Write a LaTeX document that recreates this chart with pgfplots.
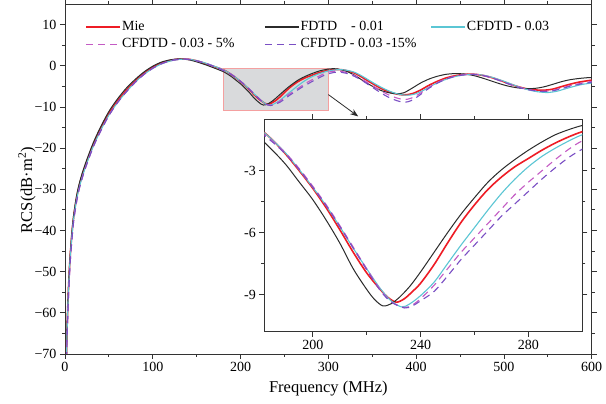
\documentclass[border=0pt]{standalone}
\usepackage{fontspec}
\setmainfont{Liberation Serif}
\usepackage{pgfplots}
\usepackage{pgfplotstable}
\pgfplotsset{compat=1.18}
\usetikzlibrary{calc,arrows.meta}

\definecolor{miec}{HTML}{EE1C25}
\definecolor{fdtdc}{HTML}{2B2B2B}
\definecolor{cfdtdc}{HTML}{5BC6D4}
\definecolor{cfac}{HTML}{C45BC4}
\definecolor{cfbc}{HTML}{7A4FC4}
\definecolor{axisgray}{HTML}{333333}
\definecolor{boxgray}{HTML}{D9DADC}
\definecolor{boxred}{HTML}{F4A0A0}

\pgfplotstableread{
x y
1.2 -80
2 -67
3 -59.5
4 -54
5 -49.5
6 -46
8 -40.5
10 -36.5
13 -32.3
16 -29.3
20 -26.3
25 -23.2
32 -19.3
40 -15.6
50 -11.6
60 -8.5
70 -5.9
80 -3.7
90 -1.85
100 -0.4
110 0.65
120 1.3
128 1.58
135 1.65
142 1.55
150 1.2
160 0.55
170 -0.2
180 -0.95
185 -1.5
190 -2.2
195 -3.0
200 -3.85
205 -4.8
210 -5.85
215 -6.95
220 -7.95
225 -8.75
228 -9.15
231 -9.37
234 -9.2
237 -8.85
240 -8.45
245 -7.55
250 -6.5
255 -5.5
260 -4.65
265 -3.9
270 -3.3
275 -2.8
280 -2.4
285 -2.0
290 -1.65
295 -1.35
300 -1.1
305 -0.95
310 -0.9
315 -0.95
320 -1.15
330 -1.8
340 -3.0
350 -4.3
360 -5.5
370 -6.4
380 -6.95
388 -7.05
396 -6.75
405 -5.9
415 -4.7
425 -3.7
435 -2.9
445 -2.4
455 -2.1
465 -2.05
475 -2.3
485 -2.8
495 -3.5
505 -4.3
515 -5.0
525 -5.55
535 -5.85
545 -5.95
555 -5.7
565 -5.1
575 -4.5
585 -4.0
595 -3.65
600 -3.5
}\mietable

\pgfplotstableread{
x y
1.2 -80
2 -66.5
3 -59
4 -53.5
5 -49
6 -45.5
8 -40
10 -36
13 -31.8
16 -28.8
20 -25.8
25 -22.7
32 -18.8
40 -15.1
50 -11.1
60 -8.0
70 -5.4
80 -3.3
90 -1.5
100 -0.1
110 0.9
120 1.45
128 1.65
135 1.6
142 1.4
150 0.95
160 0.25
170 -0.55
180 -1.4
185 -2.0
190 -2.7
195 -3.55
200 -4.4
205 -5.4
210 -6.5
215 -7.75
220 -8.75
223 -9.25
226 -9.55
229 -9.45
232 -9.15
236 -8.6
240 -7.9
245 -6.95
250 -6.0
255 -5.1
260 -4.3
265 -3.55
270 -2.95
275 -2.45
280 -2.0
285 -1.6
290 -1.25
295 -1.0
300 -0.8
305 -0.7
310 -0.75
320 -1.3
330 -2.3
340 -3.7
350 -4.95
360 -6.0
370 -6.6
378 -6.8
386 -6.55
395 -5.5
405 -4.2
415 -3.2
425 -2.5
435 -2.05
445 -1.9
455 -2.0
465 -2.35
475 -2.95
485 -3.65
495 -4.35
505 -4.95
515 -5.35
525 -5.55
535 -5.5
545 -5.15
555 -4.55
565 -3.9
575 -3.4
585 -3.1
595 -2.9
600 -2.85
}\fdtdtable

\pgfplotstableread{
x y
1.2 -80
2 -67.5
3 -60
4 -54.5
5 -50
6 -46.5
8 -41
10 -37
13 -32.8
16 -29.8
20 -26.8
25 -23.6
32 -19.7
40 -16
50 -12
60 -8.9
70 -6.3
80 -4.0
90 -2.1
100 -0.65
110 0.45
120 1.15
128 1.5
136 1.62
143 1.52
150 1.25
160 0.65
170 -0.1
180 -0.95
185 -1.5
190 -2.15
195 -2.95
200 -3.8
205 -4.7
210 -5.7
215 -6.75
220 -7.75
225 -8.7
229 -9.3
233 -9.6
236 -9.45
240 -9.05
245 -8.4
250 -7.5
255 -6.6
260 -5.75
265 -4.9
270 -4.1
275 -3.4
280 -2.8
285 -2.3
290 -1.9
295 -1.55
300 -1.25
306 -1.05
312 -0.95
320 -1.05
330 -1.6
340 -2.7
350 -4.0
360 -5.2
370 -6.2
380 -6.9
390 -7.15
398 -6.9
408 -6.0
418 -4.8
428 -3.8
438 -3.0
448 -2.45
458 -2.15
468 -2.1
478 -2.35
488 -2.9
498 -3.6
508 -4.4
518 -5.2
528 -5.85
538 -6.3
550 -6.5
560 -6.2
570 -5.6
580 -5.0
590 -4.5
600 -4.2
}\cfdtdtable

\pgfplotstableread{
x y
1.2 -80
2 -69
3 -62
4 -56
5 -51.5
6 -47.5
8 -42
10 -37.5
13 -33.3
16 -30.1
20 -27
25 -23.8
32 -19.8
40 -16.1
50 -12.1
60 -8.9
70 -6.3
80 -4.0
90 -2.1
100 -0.6
110 0.5
120 1.2
128 1.52
136 1.6
143 1.5
150 1.2
160 0.6
170 -0.2
180 -1.05
185 -1.55
190 -2.15
195 -2.9
200 -3.75
205 -4.65
210 -5.65
215 -6.7
220 -7.75
225 -8.75
229 -9.35
234 -9.63
237 -9.5
240 -9.2
245 -8.55
250 -7.75
255 -6.95
260 -6.25
265 -5.55
270 -4.85
275 -4.15
280 -3.55
285 -3.0
290 -2.45
295 -1.95
300 -1.55
306 -1.35
312 -1.3
320 -1.6
330 -2.4
340 -3.5
350 -4.8
360 -6.1
370 -7.2
380 -7.95
387 -8.2
394 -7.9
403 -6.9
413 -5.5
423 -4.2
433 -3.25
443 -2.6
453 -2.2
463 -2.05
473 -2.2
483 -2.7
493 -3.4
503 -4.2
513 -4.95
523 -5.55
533 -5.95
545 -6.2
555 -6.0
565 -5.45
575 -4.85
587 -4.3
600 -3.8
}\cfatable

\pgfplotstableread{
x y
1.2 -80
2 -69
3 -62
4 -56
5 -51.5
6 -47.5
8 -42
10 -37.5
13 -33.3
16 -30.1
20 -27
25 -23.8
32 -19.8
40 -16.1
50 -12.1
60 -8.9
70 -6.3
80 -4.0
90 -2.1
100 -0.6
110 0.5
120 1.2
128 1.52
136 1.6
143 1.5
150 1.2
160 0.6
170 -0.2
180 -1.1
185 -1.6
190 -2.2
195 -2.95
200 -3.8
205 -4.7
210 -5.7
215 -6.75
220 -7.8
225 -8.8
229 -9.35
234 -9.65
237 -9.55
240 -9.3
245 -8.85
250 -8.1
255 -7.3
260 -6.6
265 -5.9
270 -5.2
275 -4.6
280 -4.0
285 -3.4
290 -2.85
295 -2.35
300 -1.95
306 -1.65
312 -1.55
320 -1.8
330 -2.6
340 -3.8
350 -5.2
360 -6.6
370 -7.8
380 -8.6
387 -8.85
394 -8.5
403 -7.3
413 -5.7
423 -4.35
433 -3.35
443 -2.65
453 -2.25
463 -2.1
473 -2.25
483 -2.75
493 -3.45
503 -4.25
513 -5.0
523 -5.6
533 -6.0
545 -6.25
555 -6.1
565 -5.6
575 -5.0
587 -4.45
600 -4.0
}\cfbtable

\pgfplotsset{
  mystyle/.style={
    scale only axis,
    tick align=outside,
    major tick length=5pt,
    minor tick length=3pt,
    axis line style={draw=axisgray, line width=0.9pt},
    tick style={axisgray, line width=0.8pt},
    /pgf/number format/assume math mode=true,
    tick label style={font=\fontsize{14}{16}\selectfont, text=black},
    label style={font=\fontsize{16.5}{19}\selectfont},
  },
}

\begin{document}
\begin{tikzpicture}
\begin{axis}[
  mystyle,
  at={(0pt,0pt)}, anchor=south west,
  width=526.7pt, height=350pt,
  xmin=0, xmax=600, ymin=-70, ymax=15,
  xtick={0,100,...,600}, minor x tick num=1,
  ytick={-70,-60,-50,-40,-30,-20,-10,0,10},
  yticklabels={−70,−60,−50,−40,−30,−20,−10,0,10},
  minor y tick num=1,
  xlabel={Frequency (MHz)},
  ylabel={RCS(dB·m\textsuperscript{2})},
  x label style={at={(axis description cs:0.5,0)}, anchor=center, yshift=-35pt},
  y label style={at={(axis description cs:0,0.5)}, anchor=center, yshift=38pt, xshift=-11pt},
  legend columns=3,
  legend cell align=left,
  legend image code/.code={\draw[#1, line width=1.5pt] (0pt,0pt) -- (34pt,0pt);},
  legend style={draw=none, fill=none, at={(axis description cs:0.033,0.962)}, anchor=north west,
    font=\fontsize{14}{16}\selectfont, row sep=2.3pt,
    nodes={inner sep=1pt, text height=10pt, text depth=3pt},
    /tikz/every even column/.append style={column sep=13pt}},
]
\draw[fill=boxgray, draw=boxred, line width=0.6pt] (axis cs:180,-0.7) rectangle (axis cs:300,-10.85);
\addplot[draw=miec, line width=1.6pt, smooth] table[x=x,y=y] {\mietable};
\addlegendentry{\makebox[128pt][l]{Mie}}
\addplot[draw=fdtdc, line width=1pt, smooth] table[x=x,y=y] {\fdtdtable};
\addlegendentry{\makebox[113pt][l]{FDTD\quad - 0.01}}
\addplot[draw=cfdtdc, line width=1.1pt, smooth] table[x=x,y=y] {\cfdtdtable};
\addlegendentry{CFDTD - 0.03}
\addplot[draw=cfac, line width=1.1pt, dash pattern=on 7pt off 5pt, smooth] table[x=x,y=y] {\cfatable};
\addlegendentry{CFDTD - 0.03 - 5\%}
\addplot[draw=cfbc, line width=1.1pt, dash pattern=on 7pt off 5pt, smooth] table[x=x,y=y] {\cfbtable};
\addlegendentry{CFDTD - 0.03 -15\%}
\draw[-{Stealth[length=8pt,width=6pt]}, line width=0.8pt, fdtdc] (axis cs:300,-7) -- (axis cs:334,-12.3);
\end{axis}

\begin{axis}[
  mystyle,
  at={(199.3pt,22.3pt)}, anchor=south west,
  width=318pt, height=212.4pt,
  xmin=182, xmax=300, ymin=-10.8, ymax=-0.5,
  xtick={200,240,280}, minor x tick num=1,
  ytick={-9,-6,-3}, minor y tick num=1,
  axis background/.style={fill=white},
]
\addplot[draw=miec, line width=1.6pt, smooth] table[x=x,y=y] {\mietable};
\addplot[draw=fdtdc, line width=1pt, smooth] table[x=x,y=y] {\fdtdtable};
\addplot[draw=cfdtdc, line width=1.1pt, smooth] table[x=x,y=y] {\cfdtdtable};
\addplot[draw=cfac, line width=1.1pt, dash pattern=on 7pt off 5pt, smooth] table[x=x,y=y] {\cfatable};
\addplot[draw=cfbc, line width=1.1pt, dash pattern=on 7pt off 5pt, smooth] table[x=x,y=y] {\cfbtable};
\end{axis}
\pgfresetboundingbox
\path[use as bounding box] (-65pt,-50pt) rectangle (541pt,354pt);
\end{tikzpicture}
\end{document}
